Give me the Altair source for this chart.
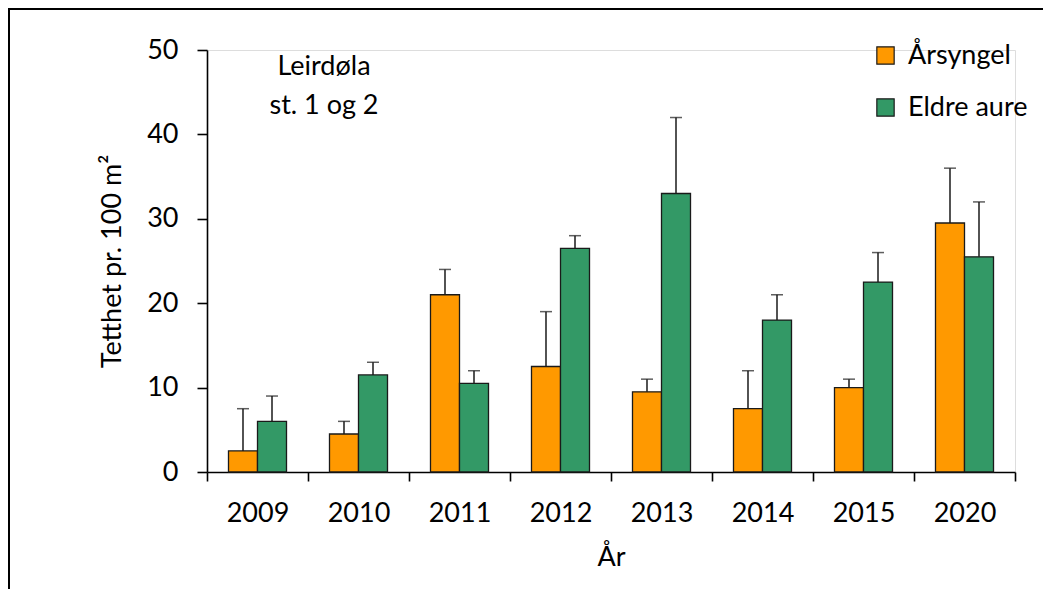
import altair as alt
import pandas as pd

years = ["2009", "2010", "2011", "2012", "2013", "2014", "2015", "2020"]
groups = ["Årsyngel", "Eldre aure"]
arsyngel = [2.5, 4.5, 21.0, 12.5, 9.5, 7.5, 10.0, 29.5]
arsyngel_upper = [7.5, 6.0, 24.0, 19.0, 11.0, 12.0, 11.0, 36.0]
eldre = [6.0, 11.5, 10.5, 26.5, 33.0, 18.0, 22.5, 25.5]
eldre_upper = [9.0, 13.0, 12.0, 28.0, 42.0, 21.0, 26.0, 32.0]
colors = ["#FF9900", "#339966"]

rows = []
for i, y in enumerate(years):
    rows.append({"year": y, "group": groups[0], "value": arsyngel[i], "upper": arsyngel_upper[i]})
    rows.append({"year": y, "group": groups[1], "value": eldre[i], "upper": eldre_upper[i]})
df = pd.DataFrame(rows)

FONT = "Lato"
FS = 27
W, H = 808, 422

xenc = alt.X(
    "year:N", sort=years,
    scale=alt.Scale(paddingInner=0, paddingOuter=0),
    axis=alt.Axis(
        title="År", labelAngle=0, tickBand="extent", tickSize=9,
        labelPadding=19, titlePadding=18, labelFontSize=FS, titleFontSize=FS,
        titleFontWeight="normal", domainColor="#000000", tickColor="#000000",
        domainWidth=1.6, tickWidth=1.6, labelColor="#000000", titleColor="#000000",
        labelFont=FONT, titleFont=FONT,
    ),
)
xoff = alt.XOffset("group:N", sort=groups, scale=alt.Scale(paddingInner=0, paddingOuter=0.741))
yscale = alt.Scale(domain=[0, 50], nice=False)

bars = alt.Chart(df).mark_bar(stroke="#1a1a1a", strokeWidth=1.3).encode(
    x=xenc,
    xOffset=xoff,
    y=alt.Y(
        "value:Q", scale=yscale,
        axis=alt.Axis(
            title="Tetthet pr. 100 m²", values=[0, 10, 20, 30, 40, 50], grid=False,
            tickSize=10, labelPadding=19, titlePadding=20, labelFontSize=FS, titleFontSize=FS,
            titleFontWeight="normal", domainColor="#000000", tickColor="#000000",
            domainWidth=1.6, tickWidth=1.6, labelColor="#000000", titleColor="#000000",
            labelFont=FONT, titleFont=FONT,
        ),
    ),
    color=alt.Color(
        "group:N", sort=groups,
        scale=alt.Scale(domain=groups, range=colors),
        legend=alt.Legend(
            title=None, orient="none", legendX=665, legendY=-8,
            symbolType="square", symbolSize=300, symbolStrokeColor="#1a1a1a",
            symbolStrokeWidth=1.2, labelFontSize=FS, labelFont=FONT, labelColor="#000000",
            rowPadding=24, labelOffset=9, symbolOpacity=1,
        ),
    ),
)

err = alt.Chart(df).mark_rule(color="#1a1a1a", strokeWidth=1.5).encode(
    x=alt.X("year:N", sort=years),
    xOffset=xoff,
    y="value:Q",
    y2="upper:Q",
)

caps = alt.Chart(df).mark_tick(color="#1a1a1a", thickness=1.5, size=12, orient="horizontal").encode(
    x=alt.X("year:N", sort=years),
    xOffset=xoff,
    y="upper:Q",
)

label = alt.Chart(alt.Data(values=[{}])).mark_text(
    fontSize=FS, font=FONT, align="center", baseline="alphabetic", lineHeight=39, color="#000000"
).encode(
    x=alt.value(117), y=alt.value(25), text=alt.value(["Leirdøla", "st. 1 og 2"])
)

border = alt.Chart(alt.Data(values=[{}])).mark_rect(
    fill=None, stroke="#000000", strokeWidth=2, clip=False
).encode(
    x=alt.value(-198), x2=alt.value(1200), y=alt.value(-41), y2=alt.value(900)
)

chart = alt.layer(border, bars, err, caps, label).properties(
    width=W, height=H,
    autosize=alt.AutoSizeParams(type="none"),
    padding={"left": 199, "top": 42, "right": 28, "bottom": 140},
).configure_view(stroke=None).configure(background="white")

chart.save("out.html", embed_options={"renderer": "svg", "actions": False})
